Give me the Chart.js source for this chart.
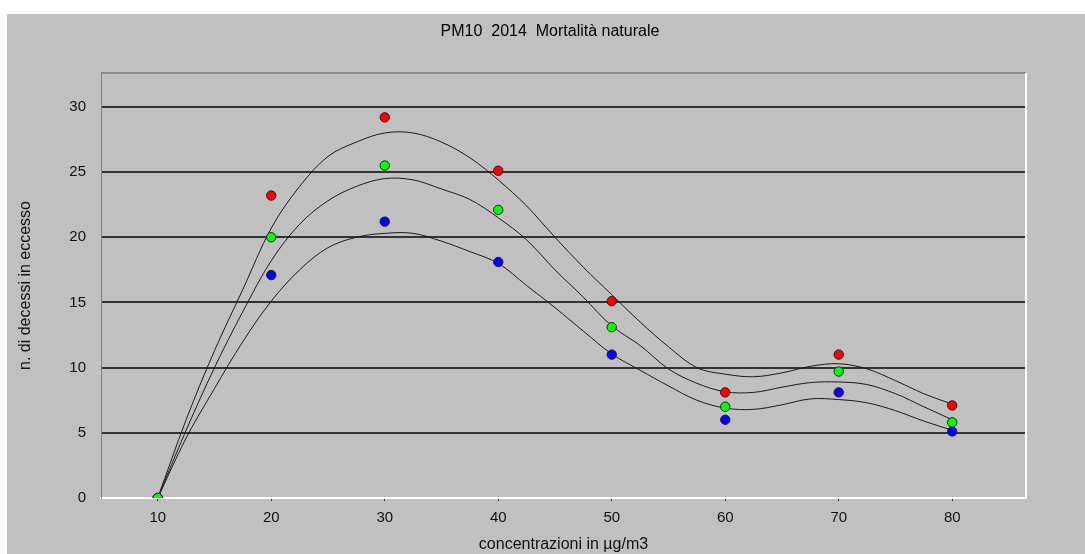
<!DOCTYPE html>
<html>
<head>
<meta charset="utf-8">
<script src="https://cdn.jsdelivr.net/npm/chart.js@4/dist/chart.umd.min.js"></script>
<style>
  html, body { margin: 0; padding: 0; background: #fff; }
  #wrap { width: 1085px; height: 554px; }
</style>
</head>
<body>
<div id="wrap"><canvas id="grafico" width="1085" height="554"></canvas></div>
<script>
// dati
var concentrazioni = [10, 20, 30, 40, 50, 60, 70, 80];
var serieRossa = [0, 23.2, 29.2, 25.1, 15.1, 8.1, 11.0, 7.1];
var serieVerde = [0, 20.0, 25.5, 22.1, 13.1, 7.0, 9.7, 5.8];
var serieBlu   = [0, 17.1, 21.2, 18.1, 11.0, 6.0, 8.1, 5.1];

// curve di interpolazione
var curvaX     = [10, 12.5, 15, 17.5, 20, 22.5, 25, 27.5, 30, 32.5, 35, 37.5, 40, 42.5, 45, 47.5, 50, 52.5, 55, 57.5, 60, 62.5, 65, 67.5, 70, 72.5, 75, 77.5, 80];
var curvaAlta  = [0, 6.0, 11.3, 16.0, 20.7, 23.9, 26.2, 27.3, 28.0, 28.0, 27.3, 26.1, 24.4, 22.4, 20.0, 17.7, 15.6, 13.5, 11.6, 10.0, 9.5, 9.3, 9.6, 10.1, 10.3, 9.9, 9.0, 8.0, 7.2];
var curvaMedia = [0, 5.2, 10.0, 14.3, 18.2, 21.0, 22.8, 23.9, 24.5, 24.4, 23.7, 22.9, 21.5, 19.8, 17.5, 15.4, 13.2, 11.7, 9.9, 8.8, 8.15, 8.1, 8.5, 8.85, 8.9, 8.7, 8.0, 7.0, 6.0];
var curvaBassa = [0, 4.6, 8.4, 12.0, 15.1, 17.5, 19.2, 20.0, 20.3, 20.3, 19.7, 18.9, 18.0, 16.3, 14.6, 12.8, 11.05, 9.8, 8.6, 7.5, 6.9, 6.8, 7.15, 7.6, 7.55, 7.3, 6.7, 5.9, 5.2];

var tickX = [10, 20, 30, 40, 50, 60, 70, 80];
var tickY = [0, 5, 10, 15, 20, 25, 30];

var FONT = '"Liberation Sans", Arial, sans-serif';

function punti(xs, ys) {
  return xs.map(function (x, i) { return {x: x, y: ys[i]}; });
}

function curva(ys) {
  return {
    type: 'line',
    data: punti(curvaX, ys),
    borderColor: '#1a1a1a',
    borderWidth: 1,
    pointRadius: 0,
    fill: false,
    tension: 0.35,
    order: 10
  };
}

function serie(ys, colore, ordine) {
  return {
    type: 'scatter',
    data: punti(concentrazioni, ys),
    backgroundColor: colore,
    borderColor: '#202020',
    borderWidth: 1,
    pointRadius: 4.7,
    order: ordine
  };
}

// sfondo grigio, cornice e titolo
var sfondo = {
  id: 'sfondo',
  beforeDraw: function (chart) {
    var c = chart.ctx;
    c.save();
    c.fillStyle = '#ffffff';
    c.fillRect(0, 0, chart.width, chart.height);
    c.fillStyle = '#c0c0c0';
    c.fillRect(7, 14, chart.width - 7, chart.height - 14);
    c.fillStyle = '#000';
    c.font = '16px ' + FONT;
    c.textAlign = 'center';
    c.textBaseline = 'middle';
    c.fillText('PM10  2014  Mortalità naturale', 550, 32);
    c.restore();
  },
  beforeDatasetsDraw: function (chart) {
    var a = chart.chartArea;
    var c = chart.ctx;
    c.save();
    c.strokeStyle = '#8c8c8c';
    c.lineWidth = 2;
    c.beginPath();
    c.moveTo(a.left, a.top);
    c.lineTo(a.right, a.top);
    c.stroke();
    c.strokeStyle = '#ffffff';
    c.beginPath();
    c.moveTo(a.right, a.top);
    c.lineTo(a.right, a.bottom + 1);
    c.stroke();
    c.restore();
  }
};

var ctx = document.getElementById('grafico');

var grafico = new Chart(ctx, {
  data: {
    datasets: [
      curva(curvaAlta),
      curva(curvaMedia),
      curva(curvaBassa),
      serie(serieRossa, '#ff0000', 3),
      serie(serieBlu, '#0000ff', 2),
      serie(serieVerde, '#00ff00', 1)
    ]
  },
  options: {
    responsive: false,
    animation: false,
    layout: { padding: { left: 7, top: 73, right: 59, bottom: 0 } },
    plugins: {
      legend: { display: false },
      tooltip: { enabled: false }
    },
    scales: {
      x: {
        type: 'linear',
        min: 5,
        max: 86.5,
        afterFit: function (s) { s.height = 56; },
        afterBuildTicks: function (s) {
          s.ticks = tickX.map(function (v) { return {value: v}; });
        },
        grid: { drawOnChartArea: false, drawTicks: true, tickLength: 3, color: '#303030' },
        border: { color: '#ffffff', width: 2 },
        ticks: {
          color: '#111',
          padding: 8,
          maxRotation: 0,
          font: { family: FONT, size: 15 }
        },
        title: {
          display: true,
          text: 'concentrazioni in µg/m3',
          color: '#111',
          padding: { top: 0, bottom: 0 },
          font: { family: FONT, size: 16 }
        }
      },
      y: {
        min: 0,
        max: 32.6,
        afterFit: function (s) { s.width = 94; },
        afterBuildTicks: function (s) {
          s.ticks = tickY.map(function (v) { return {value: v}; });
        },
        grid: {
          drawTicks: false,
          lineWidth: 2,
          color: function (c) { return c.tick && c.tick.value === 0 ? 'rgba(0,0,0,0)' : '#333333'; }
        },
        border: { color: '#808080', width: 1 },
        ticks: {
          color: '#111',
          padding: 15,
          font: { family: FONT, size: 15 }
        },
        title: {
          display: true,
          text: 'n. di decessi in eccesso',
          color: '#111',
          padding: { top: 9, bottom: 0 },
          font: { family: FONT, size: 16 }
        }
      }
    }
  },
  plugins: [sfondo]
});
</script>
</body>
</html>
